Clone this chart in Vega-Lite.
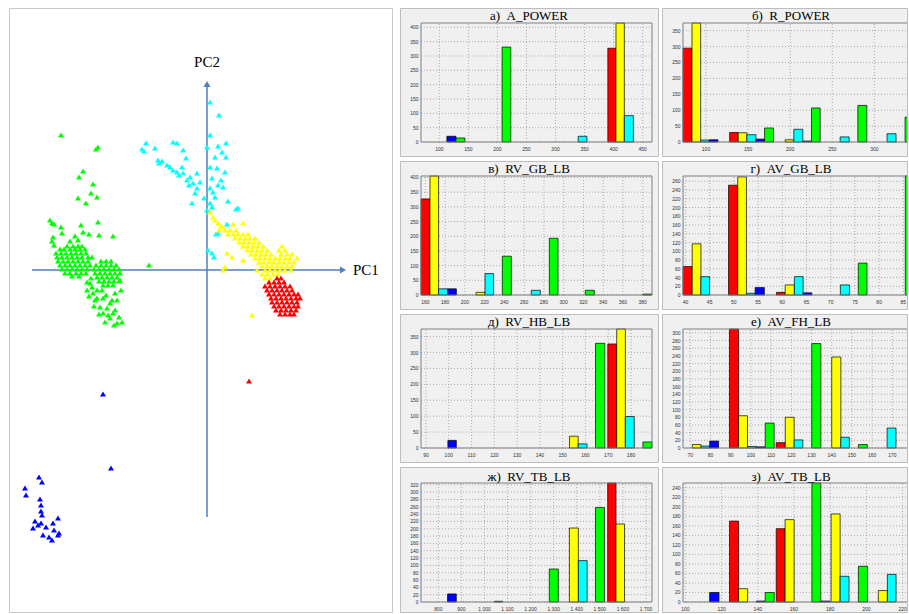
{
"$schema": "https://vega.github.io/schema/vega-lite/v6.json",
"padding": {"left": 8, "top": 7, "right": 0, "bottom": 0},
"background": "white",
"spacing": 6,
"config": {
  "axis": {"disable": true}
},
"hconcat": [
{
  "width": 383, "height": 604,
  "view": {"fill": "white", "stroke": "#c8c8c8"},
  "layer": [
    {"data": {"values": [{}]}, "mark": {"type": "rule", "color": "#4f81bd", "strokeWidth": 1.5},
     "encoding": {"x": {"datum": -175, "type": "quantitative", "scale": {"domain": [-198, 185], "nice": false, "zero": false}, "axis": null}, "x2": {"datum": 134}, "y": {"datum": 0, "type": "quantitative", "scale": {"domain": [-342, 262], "nice": false, "zero": false}, "axis": null}}},
    {"data": {"values": [{}]}, "mark": {"type": "rule", "color": "#4f81bd", "strokeWidth": 1.5},
     "encoding": {"x": {"datum": 0, "type": "quantitative", "scale": {"domain": [-198, 185], "nice": false, "zero": false}, "axis": null}, "y": {"datum": -247, "type": "quantitative", "scale": {"domain": [-342, 262], "nice": false, "zero": false}, "axis": null}, "y2": {"datum": 184}}},
    {"data": {"values": [{}]}, "mark": {"type": "point", "shape": "triangle-right", "filled": true, "size": 50, "color": "#4f81bd", "opacity": 1},
     "encoding": {"x": {"datum": 136, "type": "quantitative", "scale": {"domain": [-198, 185], "nice": false, "zero": false}, "axis": null}, "y": {"datum": 0, "type": "quantitative", "scale": {"domain": [-342, 262], "nice": false, "zero": false}, "axis": null}}},
    {"data": {"values": [{}]}, "mark": {"type": "point", "shape": "triangle-up", "filled": true, "size": 50, "color": "#4f81bd", "opacity": 1},
     "encoding": {"x": {"datum": 0, "type": "quantitative", "scale": {"domain": [-198, 185], "nice": false, "zero": false}, "axis": null}, "y": {"datum": 186, "type": "quantitative", "scale": {"domain": [-342, 262], "nice": false, "zero": false}, "axis": null}}},
    {"data": {"values": [{}]}, "mark": {"type": "text", "text": "PC1", "font": "Liberation Serif", "fontSize": 15, "fontWeight": "normal", "align": "left", "baseline": "middle", "color": "#000000"},
     "encoding": {"x": {"datum": 146, "type": "quantitative", "scale": {"domain": [-198, 185], "nice": false, "zero": false}, "axis": null}, "y": {"datum": 0, "type": "quantitative", "scale": {"domain": [-342, 262], "nice": false, "zero": false}, "axis": null}}},
    {"data": {"values": [{}]}, "mark": {"type": "text", "text": "PC2", "font": "Liberation Serif", "fontSize": 15, "fontWeight": "normal", "align": "center", "baseline": "middle", "color": "#000000"},
     "encoding": {"x": {"datum": 0, "type": "quantitative", "scale": {"domain": [-198, 185], "nice": false, "zero": false}, "axis": null}, "y": {"datum": 208, "type": "quantitative", "scale": {"domain": [-342, 262], "nice": false, "zero": false}, "axis": null}}},
    {"data": {"values": [
      {"g":"G","x":-146,"y":135},{"g":"G","x":-111,"y":121},{"g":"G","x":-109,"y":123},{"g":"G","x":-124,"y":99},{"g":"G","x":-128,"y":93},{"g":"G","x":-114,"y":86},{"g":"G","x":-129,"y":72},{"g":"G","x":-116,"y":77},{"g":"G","x":-110,"y":73},{"g":"G","x":-121,"y":67},{"g":"G","x":-157,"y":50},{"g":"G","x":-155,"y":47},{"g":"G","x":-153,"y":46},{"g":"G","x":-146,"y":43},{"g":"G","x":-126,"y":45},{"g":"G","x":-109,"y":48},{"g":"G","x":-124,"y":38},{"g":"G","x":-118,"y":36},{"g":"G","x":-108,"y":35},{"g":"G","x":-94,"y":34},{"g":"G","x":-154,"y":33},{"g":"G","x":-155,"y":29},{"g":"G","x":-153,"y":25},{"g":"G","x":-137,"y":29},{"g":"G","x":-129,"y":30},{"g":"G","x":-58,"y":5},{"g":"G","x":-145,"y":37},{"g":"G","x":-132,"y":34},
      {"g":"G","x":-140,"y":24},{"g":"G","x":-134,"y":24},{"g":"G","x":-129,"y":24},{"g":"G","x":-125,"y":24},
      {"g":"G","x":-147,"y":21},{"g":"G","x":-143,"y":21},{"g":"G","x":-137,"y":21},{"g":"G","x":-132,"y":21},{"g":"G","x":-127,"y":21},{"g":"G","x":-122,"y":21},
      {"g":"G","x":-151,"y":17},{"g":"G","x":-146,"y":17},{"g":"G","x":-141,"y":17},{"g":"G","x":-136,"y":17},{"g":"G","x":-131,"y":17},{"g":"G","x":-126,"y":17},{"g":"G","x":-121,"y":17},
      {"g":"G","x":-150,"y":13},{"g":"G","x":-145,"y":13},{"g":"G","x":-140,"y":13},{"g":"G","x":-135,"y":13},{"g":"G","x":-130,"y":13},{"g":"G","x":-125,"y":13},{"g":"G","x":-119,"y":13},{"g":"G","x":-115,"y":13},
      {"g":"G","x":-149,"y":9},{"g":"G","x":-144,"y":9},{"g":"G","x":-139,"y":9},{"g":"G","x":-134,"y":9},{"g":"G","x":-129,"y":9},{"g":"G","x":-124,"y":9},{"g":"G","x":-119,"y":9},
      {"g":"G","x":-147,"y":5},{"g":"G","x":-142,"y":5},{"g":"G","x":-137,"y":5},{"g":"G","x":-132,"y":5},{"g":"G","x":-127,"y":5},{"g":"G","x":-122,"y":5},{"g":"G","x":-117,"y":5},
      {"g":"G","x":-145,"y":1},{"g":"G","x":-140,"y":1},{"g":"G","x":-135,"y":1},{"g":"G","x":-130,"y":1},{"g":"G","x":-125,"y":1},{"g":"G","x":-120,"y":1},
      {"g":"G","x":-142,"y":-3},{"g":"G","x":-137,"y":-3},{"g":"G","x":-131,"y":-3},{"g":"G","x":-126,"y":-3},{"g":"G","x":-121,"y":-3},{"g":"G","x":-135,"y":-6},{"g":"G","x":-128,"y":-6},
      {"g":"G","x":-106,"y":9},{"g":"G","x":-101,"y":9},{"g":"G","x":-96,"y":9},
      {"g":"G","x":-111,"y":5},{"g":"G","x":-106,"y":5},{"g":"G","x":-101,"y":5},{"g":"G","x":-96,"y":5},{"g":"G","x":-91,"y":5},
      {"g":"G","x":-113,"y":1},{"g":"G","x":-108,"y":1},{"g":"G","x":-103,"y":1},{"g":"G","x":-98,"y":1},{"g":"G","x":-93,"y":1},{"g":"G","x":-88,"y":1},
      {"g":"G","x":-112,"y":-3},{"g":"G","x":-107,"y":-3},{"g":"G","x":-102,"y":-3},{"g":"G","x":-97,"y":-3},{"g":"G","x":-92,"y":-3},{"g":"G","x":-87,"y":-3},
      {"g":"G","x":-110,"y":-7},{"g":"G","x":-105,"y":-7},{"g":"G","x":-100,"y":-7},{"g":"G","x":-95,"y":-7},{"g":"G","x":-90,"y":-7},
      {"g":"G","x":-108,"y":-11},{"g":"G","x":-103,"y":-11},{"g":"G","x":-98,"y":-11},{"g":"G","x":-93,"y":-11},{"g":"G","x":-88,"y":-11},
      {"g":"G","x":-104,"y":-15},{"g":"G","x":-99,"y":-15},{"g":"G","x":-94,"y":-15},
      {"g":"G","x":-117,"y":-13},{"g":"G","x":-114,"y":-23},{"g":"G","x":-112,"y":-30},{"g":"G","x":-107,"y":-37},{"g":"G","x":-104,"y":-43},{"g":"G","x":-97,"y":-48},{"g":"G","x":-90,"y":-53},{"g":"G","x":-85,"y":-52},{"g":"G","x":-94,"y":-43},{"g":"G","x":-110,"y":-20},{"g":"G","x":-120,"y":-20},{"g":"G","x":-97,"y":-33},{"g":"G","x":-92,"y":-23},{"g":"G","x":-87,"y":-10},{"g":"G","x":-118,"y":-26},{"g":"G","x":-113,"y":-36},{"g":"G","x":-104,"y":-28},{"g":"G","x":-100,"y":-38},{"g":"G","x":-95,"y":-30},{"g":"G","x":-108,"y":-44},{"g":"G","x":-99,"y":-45},{"g":"G","x":-92,"y":-40},{"g":"G","x":-88,"y":-47},{"g":"G","x":-120,"y":-12},{"g":"G","x":-115,"y":-17},{"g":"G","x":-105,"y":-20},{"g":"G","x":-101,"y":-25},{"g":"G","x":-90,"y":-30},{"g":"G","x":-86,"y":-20},{"g":"G","x":-116,"y":-8},{"g":"G","x":-102,"y":-52},{"g":"G","x":-110,"y":-28},{"g":"G","x":-93,"y":-55},
      {"g":"C","x":3,"y":168},{"g":"C","x":12,"y":155},{"g":"C","x":3,"y":135},{"g":"C","x":19,"y":127},{"g":"C","x":11,"y":124},{"g":"C","x":0,"y":123},{"g":"C","x":15,"y":118},{"g":"C","x":8,"y":113},{"g":"C","x":19,"y":113},{"g":"C","x":-61,"y":127},{"g":"C","x":-65,"y":121},{"g":"C","x":-63,"y":119},{"g":"C","x":-52,"y":122},{"g":"C","x":-34,"y":128},{"g":"C","x":-30,"y":127},{"g":"C","x":-24,"y":120},{"g":"C","x":-21,"y":112},{"g":"C","x":-49,"y":110},{"g":"C","x":-48,"y":107},{"g":"C","x":-45,"y":109},{"g":"C","x":-37,"y":103},{"g":"C","x":-34,"y":100},{"g":"C","x":-25,"y":103},{"g":"C","x":-24,"y":97},{"g":"C","x":-17,"y":93},{"g":"C","x":-10,"y":97},{"g":"C","x":-14,"y":87},{"g":"C","x":-10,"y":82},{"g":"C","x":-12,"y":77},{"g":"C","x":-15,"y":67},{"g":"C","x":-3,"y":72},{"g":"C","x":3,"y":103},{"g":"C","x":5,"y":92},{"g":"C","x":10,"y":102},{"g":"C","x":18,"y":98},{"g":"C","x":11,"y":85},{"g":"C","x":16,"y":83},{"g":"C","x":3,"y":82},{"g":"C","x":8,"y":73},{"g":"C","x":21,"y":69},{"g":"C","x":3,"y":67},{"g":"C","x":0,"y":60},{"g":"C","x":5,"y":63},{"g":"C","x":31,"y":62},{"g":"C","x":29,"y":61},{"g":"C","x":20,"y":46},{"g":"C","x":11,"y":37},{"g":"C","x":9,"y":36},{"g":"C","x":1,"y":20},{"g":"C","x":5,"y":17},{"g":"C","x":7,"y":13},{"g":"C","x":-40,"y":105},{"g":"C","x":-30,"y":98},{"g":"C","x":-28,"y":95},{"g":"C","x":-20,"y":90},{"g":"C","x":-18,"y":85},{"g":"C","x":-7,"y":88},{"g":"C","x":14,"y":90},{"g":"C","x":6,"y":78},
      {"g":"Y","x":3,"y":58},{"g":"Y","x":8,"y":50},{"g":"Y","x":11,"y":47},{"g":"Y","x":14,"y":44},{"g":"Y","x":16,"y":43},{"g":"Y","x":26,"y":46},{"g":"Y","x":36,"y":47},{"g":"Y","x":20,"y":17},{"g":"Y","x":25,"y":13},{"g":"Y","x":16,"y":0},{"g":"Y","x":18,"y":3},{"g":"Y","x":36,"y":10},{"g":"Y","x":45,"y":-45},{"g":"Y","x":6,"y":53},{"g":"Y","x":12,"y":40},
      {"g":"Y","x":18,"y":40},{"g":"Y","x":23,"y":40},{"g":"Y","x":29,"y":40},
      {"g":"Y","x":21,"y":36},{"g":"Y","x":26,"y":36},{"g":"Y","x":31,"y":36},{"g":"Y","x":36,"y":36},{"g":"Y","x":41,"y":36},
      {"g":"Y","x":28,"y":32},{"g":"Y","x":33,"y":32},{"g":"Y","x":38,"y":32},{"g":"Y","x":43,"y":32},{"g":"Y","x":48,"y":32},
      {"g":"Y","x":32,"y":28},{"g":"Y","x":37,"y":28},{"g":"Y","x":42,"y":28},{"g":"Y","x":47,"y":28},{"g":"Y","x":52,"y":28},
      {"g":"Y","x":36,"y":24},{"g":"Y","x":41,"y":24},{"g":"Y","x":46,"y":24},{"g":"Y","x":51,"y":24},{"g":"Y","x":56,"y":24},{"g":"Y","x":75,"y":24},
      {"g":"Y","x":40,"y":20},{"g":"Y","x":45,"y":20},{"g":"Y","x":50,"y":20},{"g":"Y","x":55,"y":20},{"g":"Y","x":60,"y":20},{"g":"Y","x":72,"y":20},{"g":"Y","x":78,"y":20},
      {"g":"Y","x":44,"y":16},{"g":"Y","x":49,"y":16},{"g":"Y","x":54,"y":16},{"g":"Y","x":59,"y":16},{"g":"Y","x":64,"y":16},{"g":"Y","x":74,"y":16},{"g":"Y","x":80,"y":16},{"g":"Y","x":85,"y":16},
      {"g":"Y","x":48,"y":12},{"g":"Y","x":53,"y":12},{"g":"Y","x":58,"y":12},{"g":"Y","x":63,"y":12},{"g":"Y","x":68,"y":12},{"g":"Y","x":73,"y":12},{"g":"Y","x":78,"y":12},{"g":"Y","x":83,"y":12},{"g":"Y","x":90,"y":12},
      {"g":"Y","x":52,"y":8},{"g":"Y","x":57,"y":8},{"g":"Y","x":62,"y":8},{"g":"Y","x":67,"y":8},{"g":"Y","x":72,"y":8},{"g":"Y","x":77,"y":8},{"g":"Y","x":82,"y":8},{"g":"Y","x":87,"y":8},
      {"g":"Y","x":55,"y":4},{"g":"Y","x":60,"y":4},{"g":"Y","x":65,"y":4},{"g":"Y","x":70,"y":4},{"g":"Y","x":75,"y":4},{"g":"Y","x":80,"y":4},{"g":"Y","x":85,"y":4},
      {"g":"Y","x":50,"y":0},{"g":"Y","x":58,"y":0},{"g":"Y","x":63,"y":0},{"g":"Y","x":68,"y":0},{"g":"Y","x":73,"y":0},{"g":"Y","x":78,"y":0},{"g":"Y","x":84,"y":0},
      {"g":"Y","x":55,"y":-4},{"g":"Y","x":60,"y":-4},{"g":"Y","x":66,"y":-4},{"g":"Y","x":71,"y":-4},{"g":"Y","x":58,"y":-8},{"g":"Y","x":63,"y":-8},
      {"g":"R","x":70,"y":-8},{"g":"R","x":74,"y":-8},
      {"g":"R","x":62,"y":-12},{"g":"R","x":67,"y":-12},{"g":"R","x":72,"y":-12},{"g":"R","x":77,"y":-12},
      {"g":"R","x":58,"y":-16},{"g":"R","x":63,"y":-16},{"g":"R","x":68,"y":-16},{"g":"R","x":73,"y":-16},{"g":"R","x":78,"y":-16},{"g":"R","x":83,"y":-16},
      {"g":"R","x":60,"y":-20},{"g":"R","x":65,"y":-20},{"g":"R","x":70,"y":-20},{"g":"R","x":75,"y":-20},{"g":"R","x":80,"y":-20},{"g":"R","x":85,"y":-20},
      {"g":"R","x":62,"y":-24},{"g":"R","x":67,"y":-24},{"g":"R","x":72,"y":-24},{"g":"R","x":77,"y":-24},{"g":"R","x":82,"y":-24},{"g":"R","x":87,"y":-24},{"g":"R","x":91,"y":-24},
      {"g":"R","x":64,"y":-28},{"g":"R","x":69,"y":-28},{"g":"R","x":74,"y":-28},{"g":"R","x":79,"y":-28},{"g":"R","x":84,"y":-28},{"g":"R","x":89,"y":-28},{"g":"R","x":93,"y":-28},
      {"g":"R","x":65,"y":-32},{"g":"R","x":70,"y":-32},{"g":"R","x":75,"y":-32},{"g":"R","x":80,"y":-32},{"g":"R","x":85,"y":-32},{"g":"R","x":90,"y":-32},
      {"g":"R","x":67,"y":-36},{"g":"R","x":72,"y":-36},{"g":"R","x":77,"y":-36},{"g":"R","x":82,"y":-36},{"g":"R","x":87,"y":-36},{"g":"R","x":91,"y":-36},
      {"g":"R","x":69,"y":-40},{"g":"R","x":74,"y":-40},{"g":"R","x":79,"y":-40},{"g":"R","x":84,"y":-40},{"g":"R","x":89,"y":-40},
      {"g":"R","x":73,"y":-44},{"g":"R","x":78,"y":-44},{"g":"R","x":83,"y":-44},{"g":"R","x":87,"y":-44},
      {"g":"R","x":42,"y":-111},
      {"g":"B","x":-104,"y":-124},{"g":"B","x":-96,"y":-198},{"g":"B","x":-168,"y":-207},{"g":"B","x":-165,"y":-212},{"g":"B","x":-182,"y":-218},{"g":"B","x":-181,"y":-225},{"g":"B","x":-167,"y":-229},{"g":"B","x":-166,"y":-235},{"g":"B","x":-166,"y":-241},{"g":"B","x":-165,"y":-245},{"g":"B","x":-149,"y":-248},{"g":"B","x":-172,"y":-251},{"g":"B","x":-169,"y":-255},{"g":"B","x":-166,"y":-253},{"g":"B","x":-154,"y":-253},{"g":"B","x":-161,"y":-257},{"g":"B","x":-174,"y":-258},{"g":"B","x":-153,"y":-260},{"g":"B","x":-164,"y":-265},{"g":"B","x":-158,"y":-267},{"g":"B","x":-155,"y":-270},{"g":"B","x":-149,"y":-265},{"g":"B","x":-148,"y":-263}
     ]},
     "mark": {"type": "point", "shape": "triangle-up", "filled": true, "size": 36, "opacity": 1},
     "encoding": {"x": {"field": "x", "type": "quantitative", "scale": {"domain": [-198, 185], "nice": false, "zero": false}, "axis": null}, "y": {"field": "y", "type": "quantitative", "scale": {"domain": [-342, 262], "nice": false, "zero": false}, "axis": null},
       "color": {"field": "g", "type": "nominal", "scale": {"domain": ["R","Y","C","B","G"], "range": ["#ff0000","#ffff00","#00ffff","#0000ff","#00ff00"]}, "legend": null}}}
  ]
},
{
  "spacing": 3,
  "vconcat": [
  {"spacing": 2, "hconcat": [
    {"width": 258, "height": 148, "view": {"fill": "#f0f0f0", "stroke": "#bdbdbd"},
     "layer": [
      {"data": {"values": [{"v":100,"t":"100"},{"v":150,"t":"150"},{"v":200,"t":"200"},{"v":250,"t":"250"},{"v":300,"t":"300"},{"v":350,"t":"350"},{"v":400,"t":"400"},{"v":450,"t":"450"}]},
       "layer": [
        {"mark": {"type":"rule","strokeDash":[1,2],"color":"#9c9c9c","strokeWidth":0.8,"clip":true},
         "encoding": {"x": {"field":"v","type":"quantitative","scale":{"domain":[68.5,466],"range":[21,252],"nice":false,"zero":false}}, "y": {"datum":0,"type":"quantitative","scale":{"domain":[0,415],"range":[134,15],"nice":false,"zero":false}}, "y2": {"datum":415}}},
        {"mark": {"type":"text","font":"Liberation Sans","fontSize":5,"color":"#303030","baseline":"middle","align":"center","dy":6.5},
         "encoding": {"x": {"field":"v","type":"quantitative","scale":{"domain":[68.5,466],"range":[21,252],"nice":false,"zero":false}}, "y": {"datum":0,"type":"quantitative","scale":{"domain":[0,415],"range":[134,15],"nice":false,"zero":false}}, "text": {"field":"t"}}}
       ]},
      {"data": {"values": [{"v":0,"t":"0"},{"v":50,"t":"50"},{"v":100,"t":"100"},{"v":150,"t":"150"},{"v":200,"t":"200"},{"v":250,"t":"250"},{"v":300,"t":"300"},{"v":350,"t":"350"},{"v":400,"t":"400"}]},
       "layer": [
        {"mark": {"type":"rule","strokeDash":[1,2],"color":"#9c9c9c","strokeWidth":0.8,"clip":true},
         "encoding": {"y": {"field":"v","type":"quantitative","scale":{"domain":[0,415],"range":[134,15],"nice":false,"zero":false}}, "x": {"datum":68.5,"type":"quantitative","scale":{"domain":[68.5,466],"range":[21,252],"nice":false,"zero":false}}, "x2": {"datum":466}}},
        {"mark": {"type":"text","font":"Liberation Sans","fontSize":5,"color":"#303030","baseline":"middle","align":"right","dx":-2.5},
         "encoding": {"y": {"field":"v","type":"quantitative","scale":{"domain":[0,415],"range":[134,15],"nice":false,"zero":false}}, "x": {"datum":68.5,"type":"quantitative","scale":{"domain":[68.5,466],"range":[21,252],"nice":false,"zero":false}}, "text": {"field":"t"}}}
       ]},
      {"data": {"values": [{"c":"B","x0":113,"x1":128.7,"h":20},{"c":"G","x0":128.7,"x1":144,"h":14},{"c":"G","x0":208,"x1":223,"h":331},{"c":"C","x0":339,"x1":354,"h":20},{"c":"R","x0":390,"x1":404,"h":327},{"c":"Y","x0":404,"x1":418.4,"h":415},{"c":"C","x0":418.4,"x1":434,"h":92}]},
       "mark": {"type":"rect","stroke":"#000000","strokeWidth":0.7,"clip":true},
       "encoding": {
        "x": {"field":"x0","type":"quantitative","scale":{"domain":[68.5,466],"range":[21,252],"nice":false,"zero":false}},
        "x2": {"field":"x1"},
        "y": {"field":"h","type":"quantitative","scale":{"domain":[0,415],"range":[134,15],"nice":false,"zero":false}},
        "y2": {"datum":0},
        "color": {"field":"c","type":"nominal","scale":{"domain":["R","Y","C","B","G"],"range":["#ff0000","#ffff00","#00ffff","#0000ff","#00ff00"]},"legend":null}}},
      {"data": {"values": [{}]}, "mark": {"type":"rect","filled":false,"stroke":"#7f7f7f","strokeWidth":1,"clip":true},
       "encoding": {"x": {"datum":68.5,"type":"quantitative","scale":{"domain":[68.5,466],"range":[21,252],"nice":false,"zero":false}}, "x2": {"datum":466}, "y": {"datum":0,"type":"quantitative","scale":{"domain":[0,415],"range":[134,15],"nice":false,"zero":false}}, "y2": {"datum":415}}},
      {"data": {"values": [{"t":"а)\u00a0\u00a0A_POWER"}]}, "mark": {"type":"text","font":"Liberation Serif","fontSize":13,"fontWeight":"normal","color":"#000000","align":"center","baseline":"alphabetic","dy":-3},
       "encoding": {"x": {"datum":254.3,"type":"quantitative","scale":{"domain":[68.5,466],"range":[21,252],"nice":false,"zero":false}}, "y": {"datum":415,"type":"quantitative","scale":{"domain":[0,415],"range":[134,15],"nice":false,"zero":false}}, "text": {"field":"t"}}}
     ]},
    {"width": 245, "height": 148, "view": {"fill": "#f0f0f0", "stroke": "#bdbdbd"},
     "layer": [
      {"data": {"values": [{"v":100,"t":"100"},{"v":150,"t":"150"},{"v":200,"t":"200"},{"v":250,"t":"250"},{"v":300,"t":"300"}]},
       "layer": [
        {"mark": {"type":"rule","strokeDash":[1,2],"color":"#9c9c9c","strokeWidth":0.8,"clip":true},
         "encoding": {"x": {"field":"v","type":"quantitative","scale":{"domain":[72.7,347],"range":[21,252],"nice":false,"zero":false}}, "y": {"datum":0,"type":"quantitative","scale":{"domain":[0,374],"range":[134,15],"nice":false,"zero":false}}, "y2": {"datum":374}}},
        {"mark": {"type":"text","font":"Liberation Sans","fontSize":5,"color":"#303030","baseline":"middle","align":"center","dy":6.5},
         "encoding": {"x": {"field":"v","type":"quantitative","scale":{"domain":[72.7,347],"range":[21,252],"nice":false,"zero":false}}, "y": {"datum":0,"type":"quantitative","scale":{"domain":[0,374],"range":[134,15],"nice":false,"zero":false}}, "text": {"field":"t"}}}
       ]},
      {"data": {"values": [{"v":0,"t":"0"},{"v":50,"t":"50"},{"v":100,"t":"100"},{"v":150,"t":"150"},{"v":200,"t":"200"},{"v":250,"t":"250"},{"v":300,"t":"300"},{"v":350,"t":"350"}]},
       "layer": [
        {"mark": {"type":"rule","strokeDash":[1,2],"color":"#9c9c9c","strokeWidth":0.8,"clip":true},
         "encoding": {"y": {"field":"v","type":"quantitative","scale":{"domain":[0,374],"range":[134,15],"nice":false,"zero":false}}, "x": {"datum":72.7,"type":"quantitative","scale":{"domain":[72.7,347],"range":[21,252],"nice":false,"zero":false}}, "x2": {"datum":347}}},
        {"mark": {"type":"text","font":"Liberation Sans","fontSize":5,"color":"#303030","baseline":"middle","align":"right","dx":-2.5},
         "encoding": {"y": {"field":"v","type":"quantitative","scale":{"domain":[0,374],"range":[134,15],"nice":false,"zero":false}}, "x": {"datum":72.7,"type":"quantitative","scale":{"domain":[72.7,347],"range":[21,252],"nice":false,"zero":false}}, "text": {"field":"t"}}}
       ]},
      {"data": {"values": [{"c":"R","x0":72.7,"x1":83.4,"h":295},{"c":"Y","x0":83.4,"x1":93.7,"h":374},{"c":"C","x0":93.7,"x1":104,"h":6},{"c":"B","x0":104,"x1":114.2,"h":7},{"c":"R","x0":128.1,"x1":138.3,"h":30},{"c":"Y","x0":138.3,"x1":148.6,"h":29},{"c":"C","x0":148.6,"x1":159.3,"h":23},{"c":"B","x0":159.3,"x1":169.6,"h":9},{"c":"G","x0":169.6,"x1":180.2,"h":44},{"c":"Y","x0":194,"x1":204.3,"h":7},{"c":"C","x0":204.3,"x1":215,"h":40},{"c":"B","x0":215,"x1":225.3,"h":3},{"c":"G","x0":225.3,"x1":235.6,"h":107},{"c":"C","x0":259.3,"x1":270,"h":16},{"c":"G","x0":280.3,"x1":291,"h":115},{"c":"C","x0":315,"x1":325.7,"h":26},{"c":"G","x0":336.4,"x1":347,"h":78}]},
       "mark": {"type":"rect","stroke":"#000000","strokeWidth":0.7,"clip":true},
       "encoding": {
        "x": {"field":"x0","type":"quantitative","scale":{"domain":[72.7,347],"range":[21,252],"nice":false,"zero":false}},
        "x2": {"field":"x1"},
        "y": {"field":"h","type":"quantitative","scale":{"domain":[0,374],"range":[134,15],"nice":false,"zero":false}},
        "y2": {"datum":0},
        "color": {"field":"c","type":"nominal","scale":{"domain":["R","Y","C","B","G"],"range":["#ff0000","#ffff00","#00ffff","#0000ff","#00ff00"]},"legend":null}}},
      {"data": {"values": [{}]}, "mark": {"type":"rect","filled":false,"stroke":"#7f7f7f","strokeWidth":1,"clip":true},
       "encoding": {"x": {"datum":72.7,"type":"quantitative","scale":{"domain":[72.7,347],"range":[21,252],"nice":false,"zero":false}}, "x2": {"datum":347}, "y": {"datum":0,"type":"quantitative","scale":{"domain":[0,374],"range":[134,15],"nice":false,"zero":false}}, "y2": {"datum":374}}},
      {"data": {"values": [{"t":"б)\u00a0\u00a0R_POWER"}]}, "mark": {"type":"text","font":"Liberation Serif","fontSize":13,"fontWeight":"normal","color":"#000000","align":"center","baseline":"alphabetic","dy":-3},
       "encoding": {"x": {"datum":200.9,"type":"quantitative","scale":{"domain":[72.7,347],"range":[21,252],"nice":false,"zero":false}}, "y": {"datum":374,"type":"quantitative","scale":{"domain":[0,374],"range":[134,15],"nice":false,"zero":false}}, "text": {"field":"t"}}}
     ]}
  ]},
  {"spacing": 2, "hconcat": [
    {"width": 258, "height": 148, "view": {"fill": "#f0f0f0", "stroke": "#bdbdbd"},
     "layer": [
      {"data": {"values": [{"v":160,"t":"160"},{"v":180,"t":"180"},{"v":200,"t":"200"},{"v":220,"t":"220"},{"v":240,"t":"240"},{"v":260,"t":"260"},{"v":280,"t":"280"},{"v":300,"t":"300"},{"v":320,"t":"320"},{"v":340,"t":"340"},{"v":360,"t":"360"},{"v":380,"t":"380"}]},
       "layer": [
        {"mark": {"type":"rule","strokeDash":[1,2],"color":"#9c9c9c","strokeWidth":0.8,"clip":true},
         "encoding": {"x": {"field":"v","type":"quantitative","scale":{"domain":[155.6,389.4],"range":[21,252],"nice":false,"zero":false}}, "y": {"datum":0,"type":"quantitative","scale":{"domain":[0,405],"range":[134,15],"nice":false,"zero":false}}, "y2": {"datum":405}}},
        {"mark": {"type":"text","font":"Liberation Sans","fontSize":5,"color":"#303030","baseline":"middle","align":"center","dy":6.5},
         "encoding": {"x": {"field":"v","type":"quantitative","scale":{"domain":[155.6,389.4],"range":[21,252],"nice":false,"zero":false}}, "y": {"datum":0,"type":"quantitative","scale":{"domain":[0,405],"range":[134,15],"nice":false,"zero":false}}, "text": {"field":"t"}}}
       ]},
      {"data": {"values": [{"v":0,"t":"0"},{"v":50,"t":"50"},{"v":100,"t":"100"},{"v":150,"t":"150"},{"v":200,"t":"200"},{"v":250,"t":"250"},{"v":300,"t":"300"},{"v":350,"t":"350"},{"v":400,"t":"400"}]},
       "layer": [
        {"mark": {"type":"rule","strokeDash":[1,2],"color":"#9c9c9c","strokeWidth":0.8,"clip":true},
         "encoding": {"y": {"field":"v","type":"quantitative","scale":{"domain":[0,405],"range":[134,15],"nice":false,"zero":false}}, "x": {"datum":155.6,"type":"quantitative","scale":{"domain":[155.6,389.4],"range":[21,252],"nice":false,"zero":false}}, "x2": {"datum":389.4}}},
        {"mark": {"type":"text","font":"Liberation Sans","fontSize":5,"color":"#303030","baseline":"middle","align":"right","dx":-2.5},
         "encoding": {"y": {"field":"v","type":"quantitative","scale":{"domain":[0,405],"range":[134,15],"nice":false,"zero":false}}, "x": {"datum":155.6,"type":"quantitative","scale":{"domain":[155.6,389.4],"range":[21,252],"nice":false,"zero":false}}, "text": {"field":"t"}}}
       ]},
      {"data": {"values": [{"c":"R","x0":155.6,"x1":164.7,"h":327},{"c":"Y","x0":164.7,"x1":173.4,"h":405},{"c":"C","x0":173.4,"x1":182.6,"h":21},{"c":"B","x0":182.6,"x1":191.4,"h":21},{"c":"Y","x0":211.3,"x1":220.4,"h":9},{"c":"C","x0":220.4,"x1":229.1,"h":73},{"c":"G","x0":237.9,"x1":247,"h":132},{"c":"C","x0":267.2,"x1":276.4,"h":16},{"c":"G","x0":285.5,"x1":294.3,"h":193},{"c":"G","x0":321.9,"x1":331,"h":16},{"c":"G","x0":380,"x1":389.4,"h":3}]},
       "mark": {"type":"rect","stroke":"#000000","strokeWidth":0.7,"clip":true},
       "encoding": {
        "x": {"field":"x0","type":"quantitative","scale":{"domain":[155.6,389.4],"range":[21,252],"nice":false,"zero":false}},
        "x2": {"field":"x1"},
        "y": {"field":"h","type":"quantitative","scale":{"domain":[0,405],"range":[134,15],"nice":false,"zero":false}},
        "y2": {"datum":0},
        "color": {"field":"c","type":"nominal","scale":{"domain":["R","Y","C","B","G"],"range":["#ff0000","#ffff00","#00ffff","#0000ff","#00ff00"]},"legend":null}}},
      {"data": {"values": [{}]}, "mark": {"type":"rect","filled":false,"stroke":"#7f7f7f","strokeWidth":1,"clip":true},
       "encoding": {"x": {"datum":155.6,"type":"quantitative","scale":{"domain":[155.6,389.4],"range":[21,252],"nice":false,"zero":false}}, "x2": {"datum":389.4}, "y": {"datum":0,"type":"quantitative","scale":{"domain":[0,405],"range":[134,15],"nice":false,"zero":false}}, "y2": {"datum":405}}},
      {"data": {"values": [{"t":"в)\u00a0\u00a0RV_GB_LB"}]}, "mark": {"type":"text","font":"Liberation Serif","fontSize":13,"fontWeight":"normal","color":"#000000","align":"center","baseline":"alphabetic","dy":-3},
       "encoding": {"x": {"datum":264.9,"type":"quantitative","scale":{"domain":[155.6,389.4],"range":[21,252],"nice":false,"zero":false}}, "y": {"datum":405,"type":"quantitative","scale":{"domain":[0,405],"range":[134,15],"nice":false,"zero":false}}, "text": {"field":"t"}}}
     ]},
    {"width": 245, "height": 148, "view": {"fill": "#f0f0f0", "stroke": "#bdbdbd"},
     "layer": [
      {"data": {"values": [{"v":40,"t":"40"},{"v":45,"t":"45"},{"v":50,"t":"50"},{"v":55,"t":"55"},{"v":60,"t":"60"},{"v":65,"t":"65"},{"v":70,"t":"70"},{"v":75,"t":"75"},{"v":80,"t":"80"},{"v":85,"t":"85"}]},
       "layer": [
        {"mark": {"type":"rule","strokeDash":[1,2],"color":"#9c9c9c","strokeWidth":0.8,"clip":true},
         "encoding": {"x": {"field":"v","type":"quantitative","scale":{"domain":[39.5,87.2],"range":[21,252],"nice":false,"zero":false}}, "y": {"datum":0,"type":"quantitative","scale":{"domain":[0,272],"range":[134,15],"nice":false,"zero":false}}, "y2": {"datum":272}}},
        {"mark": {"type":"text","font":"Liberation Sans","fontSize":5,"color":"#303030","baseline":"middle","align":"center","dy":6.5},
         "encoding": {"x": {"field":"v","type":"quantitative","scale":{"domain":[39.5,87.2],"range":[21,252],"nice":false,"zero":false}}, "y": {"datum":0,"type":"quantitative","scale":{"domain":[0,272],"range":[134,15],"nice":false,"zero":false}}, "text": {"field":"t"}}}
       ]},
      {"data": {"values": [{"v":0,"t":"0"},{"v":20,"t":"20"},{"v":40,"t":"40"},{"v":60,"t":"60"},{"v":80,"t":"80"},{"v":100,"t":"100"},{"v":120,"t":"120"},{"v":140,"t":"140"},{"v":160,"t":"160"},{"v":180,"t":"180"},{"v":200,"t":"200"},{"v":220,"t":"220"},{"v":240,"t":"240"},{"v":260,"t":"260"}]},
       "layer": [
        {"mark": {"type":"rule","strokeDash":[1,2],"color":"#9c9c9c","strokeWidth":0.8,"clip":true},
         "encoding": {"y": {"field":"v","type":"quantitative","scale":{"domain":[0,272],"range":[134,15],"nice":false,"zero":false}}, "x": {"datum":39.5,"type":"quantitative","scale":{"domain":[39.5,87.2],"range":[21,252],"nice":false,"zero":false}}, "x2": {"datum":87.2}}},
        {"mark": {"type":"text","font":"Liberation Sans","fontSize":5,"color":"#303030","baseline":"middle","align":"right","dx":-2.5},
         "encoding": {"y": {"field":"v","type":"quantitative","scale":{"domain":[0,272],"range":[134,15],"nice":false,"zero":false}}, "x": {"datum":39.5,"type":"quantitative","scale":{"domain":[39.5,87.2],"range":[21,252],"nice":false,"zero":false}}, "text": {"field":"t"}}}
       ]},
      {"data": {"values": [{"c":"R","x0":39.5,"x1":41.4,"h":65},{"c":"Y","x0":41.4,"x1":43.2,"h":117},{"c":"C","x0":43.2,"x1":45,"h":42},{"c":"R","x0":48.9,"x1":50.8,"h":251},{"c":"Y","x0":50.8,"x1":52.6,"h":270},{"c":"C","x0":52.6,"x1":54.4,"h":4},{"c":"B","x0":54.4,"x1":56.3,"h":17},{"c":"R","x0":58.8,"x1":60.6,"h":6},{"c":"Y","x0":60.6,"x1":62.5,"h":23},{"c":"C","x0":62.5,"x1":64.3,"h":42},{"c":"B","x0":64.3,"x1":66.1,"h":5},{"c":"C","x0":72,"x1":73.9,"h":23},{"c":"G","x0":75.7,"x1":77.5,"h":73},{"c":"G","x0":85.4,"x1":87.2,"h":272}]},
       "mark": {"type":"rect","stroke":"#000000","strokeWidth":0.7,"clip":true},
       "encoding": {
        "x": {"field":"x0","type":"quantitative","scale":{"domain":[39.5,87.2],"range":[21,252],"nice":false,"zero":false}},
        "x2": {"field":"x1"},
        "y": {"field":"h","type":"quantitative","scale":{"domain":[0,272],"range":[134,15],"nice":false,"zero":false}},
        "y2": {"datum":0},
        "color": {"field":"c","type":"nominal","scale":{"domain":["R","Y","C","B","G"],"range":["#ff0000","#ffff00","#00ffff","#0000ff","#00ff00"]},"legend":null}}},
      {"data": {"values": [{}]}, "mark": {"type":"rect","filled":false,"stroke":"#7f7f7f","strokeWidth":1,"clip":true},
       "encoding": {"x": {"datum":39.5,"type":"quantitative","scale":{"domain":[39.5,87.2],"range":[21,252],"nice":false,"zero":false}}, "x2": {"datum":87.2}, "y": {"datum":0,"type":"quantitative","scale":{"domain":[0,272],"range":[134,15],"nice":false,"zero":false}}, "y2": {"datum":272}}},
      {"data": {"values": [{"t":"г)\u00a0\u00a0AV_GB_LB"}]}, "mark": {"type":"text","font":"Liberation Serif","fontSize":13,"fontWeight":"normal","color":"#000000","align":"center","baseline":"alphabetic","dy":-3},
       "encoding": {"x": {"datum":61.8,"type":"quantitative","scale":{"domain":[39.5,87.2],"range":[21,252],"nice":false,"zero":false}}, "y": {"datum":272,"type":"quantitative","scale":{"domain":[0,272],"range":[134,15],"nice":false,"zero":false}}, "text": {"field":"t"}}}
     ]}
  ]},
  {"spacing": 2, "hconcat": [
    {"width": 258, "height": 148, "view": {"fill": "#f0f0f0", "stroke": "#bdbdbd"},
     "layer": [
      {"data": {"values": [{"v":90,"t":"90"},{"v":100,"t":"100"},{"v":110,"t":"110"},{"v":120,"t":"120"},{"v":130,"t":"130"},{"v":140,"t":"140"},{"v":150,"t":"150"},{"v":160,"t":"160"},{"v":170,"t":"170"},{"v":180,"t":"180"}]},
       "layer": [
        {"mark": {"type":"rule","strokeDash":[1,2],"color":"#9c9c9c","strokeWidth":0.8,"clip":true},
         "encoding": {"x": {"field":"v","type":"quantitative","scale":{"domain":[87.8,189.2],"range":[21,252],"nice":false,"zero":false}}, "y": {"datum":0,"type":"quantitative","scale":{"domain":[0,374],"range":[134,15],"nice":false,"zero":false}}, "y2": {"datum":374}}},
        {"mark": {"type":"text","font":"Liberation Sans","fontSize":5,"color":"#303030","baseline":"middle","align":"center","dy":6.5},
         "encoding": {"x": {"field":"v","type":"quantitative","scale":{"domain":[87.8,189.2],"range":[21,252],"nice":false,"zero":false}}, "y": {"datum":0,"type":"quantitative","scale":{"domain":[0,374],"range":[134,15],"nice":false,"zero":false}}, "text": {"field":"t"}}}
       ]},
      {"data": {"values": [{"v":0,"t":"0"},{"v":50,"t":"50"},{"v":100,"t":"100"},{"v":150,"t":"150"},{"v":200,"t":"200"},{"v":250,"t":"250"},{"v":300,"t":"300"},{"v":350,"t":"350"}]},
       "layer": [
        {"mark": {"type":"rule","strokeDash":[1,2],"color":"#9c9c9c","strokeWidth":0.8,"clip":true},
         "encoding": {"y": {"field":"v","type":"quantitative","scale":{"domain":[0,374],"range":[134,15],"nice":false,"zero":false}}, "x": {"datum":87.8,"type":"quantitative","scale":{"domain":[87.8,189.2],"range":[21,252],"nice":false,"zero":false}}, "x2": {"datum":189.2}}},
        {"mark": {"type":"text","font":"Liberation Sans","fontSize":5,"color":"#303030","baseline":"middle","align":"right","dx":-2.5},
         "encoding": {"y": {"field":"v","type":"quantitative","scale":{"domain":[0,374],"range":[134,15],"nice":false,"zero":false}}, "x": {"datum":87.8,"type":"quantitative","scale":{"domain":[87.8,189.2],"range":[21,252],"nice":false,"zero":false}}, "text": {"field":"t"}}}
       ]},
      {"data": {"values": [{"c":"B","x0":99.6,"x1":103.3,"h":24},{"c":"Y","x0":153,"x1":156.8,"h":37},{"c":"C","x0":156.8,"x1":160.7,"h":13},{"c":"G","x0":164.4,"x1":168.5,"h":329},{"c":"R","x0":169.8,"x1":173.7,"h":327},{"c":"Y","x0":173.7,"x1":177.5,"h":374},{"c":"C","x0":177.5,"x1":181.4,"h":99},{"c":"G","x0":185.2,"x1":189.2,"h":19}]},
       "mark": {"type":"rect","stroke":"#000000","strokeWidth":0.7,"clip":true},
       "encoding": {
        "x": {"field":"x0","type":"quantitative","scale":{"domain":[87.8,189.2],"range":[21,252],"nice":false,"zero":false}},
        "x2": {"field":"x1"},
        "y": {"field":"h","type":"quantitative","scale":{"domain":[0,374],"range":[134,15],"nice":false,"zero":false}},
        "y2": {"datum":0},
        "color": {"field":"c","type":"nominal","scale":{"domain":["R","Y","C","B","G"],"range":["#ff0000","#ffff00","#00ffff","#0000ff","#00ff00"]},"legend":null}}},
      {"data": {"values": [{}]}, "mark": {"type":"rect","filled":false,"stroke":"#7f7f7f","strokeWidth":1,"clip":true},
       "encoding": {"x": {"datum":87.8,"type":"quantitative","scale":{"domain":[87.8,189.2],"range":[21,252],"nice":false,"zero":false}}, "x2": {"datum":189.2}, "y": {"datum":0,"type":"quantitative","scale":{"domain":[0,374],"range":[134,15],"nice":false,"zero":false}}, "y2": {"datum":374}}},
      {"data": {"values": [{"t":"д)\u00a0\u00a0RV_HB_LB"}]}, "mark": {"type":"text","font":"Liberation Serif","fontSize":13,"fontWeight":"normal","color":"#000000","align":"center","baseline":"alphabetic","dy":-3},
       "encoding": {"x": {"datum":135.2,"type":"quantitative","scale":{"domain":[87.8,189.2],"range":[21,252],"nice":false,"zero":false}}, "y": {"datum":374,"type":"quantitative","scale":{"domain":[0,374],"range":[134,15],"nice":false,"zero":false}}, "text": {"field":"t"}}}
     ]},
    {"width": 245, "height": 148, "view": {"fill": "#f0f0f0", "stroke": "#bdbdbd"},
     "layer": [
      {"data": {"values": [{"v":70,"t":"70"},{"v":80,"t":"80"},{"v":90,"t":"90"},{"v":100,"t":"100"},{"v":110,"t":"110"},{"v":120,"t":"120"},{"v":130,"t":"130"},{"v":140,"t":"140"},{"v":150,"t":"150"},{"v":160,"t":"160"},{"v":170,"t":"170"}]},
       "layer": [
        {"mark": {"type":"rule","strokeDash":[1,2],"color":"#9c9c9c","strokeWidth":0.8,"clip":true},
         "encoding": {"x": {"field":"v","type":"quantitative","scale":{"domain":[66.4,180.7],"range":[21,252],"nice":false,"zero":false}}, "y": {"datum":0,"type":"quantitative","scale":{"domain":[0,310],"range":[134,15],"nice":false,"zero":false}}, "y2": {"datum":310}}},
        {"mark": {"type":"text","font":"Liberation Sans","fontSize":5,"color":"#303030","baseline":"middle","align":"center","dy":6.5},
         "encoding": {"x": {"field":"v","type":"quantitative","scale":{"domain":[66.4,180.7],"range":[21,252],"nice":false,"zero":false}}, "y": {"datum":0,"type":"quantitative","scale":{"domain":[0,310],"range":[134,15],"nice":false,"zero":false}}, "text": {"field":"t"}}}
       ]},
      {"data": {"values": [{"v":0,"t":"0"},{"v":20,"t":"20"},{"v":40,"t":"40"},{"v":60,"t":"60"},{"v":80,"t":"80"},{"v":100,"t":"100"},{"v":120,"t":"120"},{"v":140,"t":"140"},{"v":160,"t":"160"},{"v":180,"t":"180"},{"v":200,"t":"200"},{"v":220,"t":"220"},{"v":240,"t":"240"},{"v":260,"t":"260"},{"v":280,"t":"280"},{"v":300,"t":"300"}]},
       "layer": [
        {"mark": {"type":"rule","strokeDash":[1,2],"color":"#9c9c9c","strokeWidth":0.8,"clip":true},
         "encoding": {"y": {"field":"v","type":"quantitative","scale":{"domain":[0,310],"range":[134,15],"nice":false,"zero":false}}, "x": {"datum":66.4,"type":"quantitative","scale":{"domain":[66.4,180.7],"range":[21,252],"nice":false,"zero":false}}, "x2": {"datum":180.7}}},
        {"mark": {"type":"text","font":"Liberation Sans","fontSize":5,"color":"#303030","baseline":"middle","align":"right","dx":-2.5},
         "encoding": {"y": {"field":"v","type":"quantitative","scale":{"domain":[0,310],"range":[134,15],"nice":false,"zero":false}}, "x": {"datum":66.4,"type":"quantitative","scale":{"domain":[66.4,180.7],"range":[21,252],"nice":false,"zero":false}}, "text": {"field":"t"}}}
       ]},
      {"data": {"values": [{"c":"Y","x0":71,"x1":75.3,"h":9},{"c":"C","x0":75.3,"x1":79.6,"h":5},{"c":"B","x0":79.6,"x1":84,"h":18},{"c":"R","x0":89.4,"x1":93.9,"h":310},{"c":"Y","x0":93.9,"x1":98.3,"h":84},{"c":"C","x0":98.3,"x1":102.6,"h":4},{"c":"B","x0":102.6,"x1":107.1,"h":3},{"c":"G","x0":107.1,"x1":111.5,"h":65},{"c":"R","x0":112.5,"x1":117,"h":14},{"c":"Y","x0":117,"x1":121.4,"h":80},{"c":"C","x0":121.4,"x1":125.7,"h":21},{"c":"G","x0":130.1,"x1":134.6,"h":272},{"c":"Y","x0":140,"x1":144.5,"h":237},{"c":"C","x0":144.5,"x1":148.7,"h":28},{"c":"G","x0":153.2,"x1":157.6,"h":9},{"c":"C","x0":167.4,"x1":171.8,"h":52}]},
       "mark": {"type":"rect","stroke":"#000000","strokeWidth":0.7,"clip":true},
       "encoding": {
        "x": {"field":"x0","type":"quantitative","scale":{"domain":[66.4,180.7],"range":[21,252],"nice":false,"zero":false}},
        "x2": {"field":"x1"},
        "y": {"field":"h","type":"quantitative","scale":{"domain":[0,310],"range":[134,15],"nice":false,"zero":false}},
        "y2": {"datum":0},
        "color": {"field":"c","type":"nominal","scale":{"domain":["R","Y","C","B","G"],"range":["#ff0000","#ffff00","#00ffff","#0000ff","#00ff00"]},"legend":null}}},
      {"data": {"values": [{}]}, "mark": {"type":"rect","filled":false,"stroke":"#7f7f7f","strokeWidth":1,"clip":true},
       "encoding": {"x": {"datum":66.4,"type":"quantitative","scale":{"domain":[66.4,180.7],"range":[21,252],"nice":false,"zero":false}}, "x2": {"datum":180.7}, "y": {"datum":0,"type":"quantitative","scale":{"domain":[0,310],"range":[134,15],"nice":false,"zero":false}}, "y2": {"datum":310}}},
      {"data": {"values": [{"t":"е)\u00a0\u00a0AV_FH_LB"}]}, "mark": {"type":"text","font":"Liberation Serif","fontSize":13,"fontWeight":"normal","color":"#000000","align":"center","baseline":"alphabetic","dy":-3},
       "encoding": {"x": {"datum":119.8,"type":"quantitative","scale":{"domain":[66.4,180.7],"range":[21,252],"nice":false,"zero":false}}, "y": {"datum":310,"type":"quantitative","scale":{"domain":[0,310],"range":[134,15],"nice":false,"zero":false}}, "text": {"field":"t"}}}
     ]}
  ]},
  {"spacing": 2, "hconcat": [
    {"width": 258, "height": 145, "view": {"fill": "#f0f0f0", "stroke": "#bdbdbd"},
     "layer": [
      {"data": {"values": [{"v":800,"t":"800"},{"v":900,"t":"900"},{"v":1000,"t":"1 000"},{"v":1100,"t":"1 100"},{"v":1200,"t":"1 200"},{"v":1300,"t":"1 300"},{"v":1400,"t":"1 400"},{"v":1500,"t":"1 500"},{"v":1600,"t":"1 600"},{"v":1700,"t":"1 700"}]},
       "layer": [
        {"mark": {"type":"rule","strokeDash":[1,2],"color":"#9c9c9c","strokeWidth":0.8,"clip":true},
         "encoding": {"x": {"field":"v","type":"quantitative","scale":{"domain":[725,1726],"range":[21,252],"nice":false,"zero":false}}, "y": {"datum":0,"type":"quantitative","scale":{"domain":[0,325],"range":[135,16],"nice":false,"zero":false}}, "y2": {"datum":325}}},
        {"mark": {"type":"text","font":"Liberation Sans","fontSize":5,"color":"#303030","baseline":"middle","align":"center","dy":6.5},
         "encoding": {"x": {"field":"v","type":"quantitative","scale":{"domain":[725,1726],"range":[21,252],"nice":false,"zero":false}}, "y": {"datum":0,"type":"quantitative","scale":{"domain":[0,325],"range":[135,16],"nice":false,"zero":false}}, "text": {"field":"t"}}}
       ]},
      {"data": {"values": [{"v":0,"t":"0"},{"v":20,"t":"20"},{"v":40,"t":"40"},{"v":60,"t":"60"},{"v":80,"t":"80"},{"v":100,"t":"100"},{"v":120,"t":"120"},{"v":140,"t":"140"},{"v":160,"t":"160"},{"v":180,"t":"180"},{"v":200,"t":"200"},{"v":220,"t":"220"},{"v":240,"t":"240"},{"v":260,"t":"260"},{"v":280,"t":"280"},{"v":300,"t":"300"},{"v":320,"t":"320"}]},
       "layer": [
        {"mark": {"type":"rule","strokeDash":[1,2],"color":"#9c9c9c","strokeWidth":0.8,"clip":true},
         "encoding": {"y": {"field":"v","type":"quantitative","scale":{"domain":[0,325],"range":[135,16],"nice":false,"zero":false}}, "x": {"datum":725,"type":"quantitative","scale":{"domain":[725,1726],"range":[21,252],"nice":false,"zero":false}}, "x2": {"datum":1726}}},
        {"mark": {"type":"text","font":"Liberation Sans","fontSize":5,"color":"#303030","baseline":"middle","align":"right","dx":-2.5},
         "encoding": {"y": {"field":"v","type":"quantitative","scale":{"domain":[0,325],"range":[135,16],"nice":false,"zero":false}}, "x": {"datum":725,"type":"quantitative","scale":{"domain":[725,1726],"range":[21,252],"nice":false,"zero":false}}, "text": {"field":"t"}}}
       ]},
      {"data": {"values": [{"c":"B","x0":840,"x1":878,"h":22},{"c":"G","x0":1043,"x1":1079,"h":2},{"c":"G","x0":1281,"x1":1320,"h":90},{"c":"Y","x0":1368,"x1":1407,"h":202},{"c":"C","x0":1407,"x1":1445,"h":113},{"c":"G","x0":1481,"x1":1520,"h":258},{"c":"R","x0":1534,"x1":1570,"h":325},{"c":"Y","x0":1570,"x1":1607,"h":213}]},
       "mark": {"type":"rect","stroke":"#000000","strokeWidth":0.7,"clip":true},
       "encoding": {
        "x": {"field":"x0","type":"quantitative","scale":{"domain":[725,1726],"range":[21,252],"nice":false,"zero":false}},
        "x2": {"field":"x1"},
        "y": {"field":"h","type":"quantitative","scale":{"domain":[0,325],"range":[135,16],"nice":false,"zero":false}},
        "y2": {"datum":0},
        "color": {"field":"c","type":"nominal","scale":{"domain":["R","Y","C","B","G"],"range":["#ff0000","#ffff00","#00ffff","#0000ff","#00ff00"]},"legend":null}}},
      {"data": {"values": [{}]}, "mark": {"type":"rect","filled":false,"stroke":"#7f7f7f","strokeWidth":1,"clip":true},
       "encoding": {"x": {"datum":725,"type":"quantitative","scale":{"domain":[725,1726],"range":[21,252],"nice":false,"zero":false}}, "x2": {"datum":1726}, "y": {"datum":0,"type":"quantitative","scale":{"domain":[0,325],"range":[135,16],"nice":false,"zero":false}}, "y2": {"datum":325}}},
      {"data": {"values": [{"t":"ж)\u00a0\u00a0RV_TB_LB"}]}, "mark": {"type":"text","font":"Liberation Serif","fontSize":13,"fontWeight":"normal","color":"#000000","align":"center","baseline":"alphabetic","dy":-2.5},
       "encoding": {"x": {"datum":1193,"type":"quantitative","scale":{"domain":[725,1726],"range":[21,252],"nice":false,"zero":false}}, "y": {"datum":325,"type":"quantitative","scale":{"domain":[0,325],"range":[135,16],"nice":false,"zero":false}}, "text": {"field":"t"}}}
     ]},
    {"width": 245, "height": 145, "view": {"fill": "#f0f0f0", "stroke": "#bdbdbd"},
     "layer": [
      {"data": {"values": [{"v":100,"t":"100"},{"v":120,"t":"120"},{"v":140,"t":"140"},{"v":160,"t":"160"},{"v":180,"t":"180"},{"v":200,"t":"200"},{"v":220,"t":"220"}]},
       "layer": [
        {"mark": {"type":"rule","strokeDash":[1,2],"color":"#9c9c9c","strokeWidth":0.8,"clip":true},
         "encoding": {"x": {"field":"v","type":"quantitative","scale":{"domain":[98.7,226.3],"range":[21,252],"nice":false,"zero":false}}, "y": {"datum":0,"type":"quantitative","scale":{"domain":[0,250],"range":[135,16],"nice":false,"zero":false}}, "y2": {"datum":250}}},
        {"mark": {"type":"text","font":"Liberation Sans","fontSize":5,"color":"#303030","baseline":"middle","align":"center","dy":6.5},
         "encoding": {"x": {"field":"v","type":"quantitative","scale":{"domain":[98.7,226.3],"range":[21,252],"nice":false,"zero":false}}, "y": {"datum":0,"type":"quantitative","scale":{"domain":[0,250],"range":[135,16],"nice":false,"zero":false}}, "text": {"field":"t"}}}
       ]},
      {"data": {"values": [{"v":0,"t":"0"},{"v":20,"t":"20"},{"v":40,"t":"40"},{"v":60,"t":"60"},{"v":80,"t":"80"},{"v":100,"t":"100"},{"v":120,"t":"120"},{"v":140,"t":"140"},{"v":160,"t":"160"},{"v":180,"t":"180"},{"v":200,"t":"200"},{"v":220,"t":"220"},{"v":240,"t":"240"}]},
       "layer": [
        {"mark": {"type":"rule","strokeDash":[1,2],"color":"#9c9c9c","strokeWidth":0.8,"clip":true},
         "encoding": {"y": {"field":"v","type":"quantitative","scale":{"domain":[0,250],"range":[135,16],"nice":false,"zero":false}}, "x": {"datum":98.7,"type":"quantitative","scale":{"domain":[98.7,226.3],"range":[21,252],"nice":false,"zero":false}}, "x2": {"datum":226.3}}},
        {"mark": {"type":"text","font":"Liberation Sans","fontSize":5,"color":"#303030","baseline":"middle","align":"right","dx":-2.5},
         "encoding": {"y": {"field":"v","type":"quantitative","scale":{"domain":[0,250],"range":[135,16],"nice":false,"zero":false}}, "x": {"datum":98.7,"type":"quantitative","scale":{"domain":[98.7,226.3],"range":[21,252],"nice":false,"zero":false}}, "text": {"field":"t"}}}
       ]},
      {"data": {"values": [{"c":"B","x0":113.4,"x1":118.6,"h":20},{"c":"R","x0":124.4,"x1":129.4,"h":170},{"c":"Y","x0":129.4,"x1":134.4,"h":28},{"c":"B","x0":139.2,"x1":144.1,"h":2},{"c":"G","x0":144.1,"x1":149.1,"h":20},{"c":"R","x0":150.2,"x1":155.1,"h":154},{"c":"Y","x0":155.1,"x1":160.1,"h":173},{"c":"G","x0":169.9,"x1":174.8,"h":250},{"c":"B","x0":174.8,"x1":180,"h":2},{"c":"Y","x0":180.5,"x1":185.5,"h":185},{"c":"C","x0":185.5,"x1":190.4,"h":54},{"c":"G","x0":195.6,"x1":200.6,"h":75},{"c":"Y","x0":206.6,"x1":211.6,"h":24},{"c":"C","x0":211.6,"x1":216.4,"h":58}]},
       "mark": {"type":"rect","stroke":"#000000","strokeWidth":0.7,"clip":true},
       "encoding": {
        "x": {"field":"x0","type":"quantitative","scale":{"domain":[98.7,226.3],"range":[21,252],"nice":false,"zero":false}},
        "x2": {"field":"x1"},
        "y": {"field":"h","type":"quantitative","scale":{"domain":[0,250],"range":[135,16],"nice":false,"zero":false}},
        "y2": {"datum":0},
        "color": {"field":"c","type":"nominal","scale":{"domain":["R","Y","C","B","G"],"range":["#ff0000","#ffff00","#00ffff","#0000ff","#00ff00"]},"legend":null}}},
      {"data": {"values": [{}]}, "mark": {"type":"rect","filled":false,"stroke":"#7f7f7f","strokeWidth":1,"clip":true},
       "encoding": {"x": {"datum":98.7,"type":"quantitative","scale":{"domain":[98.7,226.3],"range":[21,252],"nice":false,"zero":false}}, "x2": {"datum":226.3}, "y": {"datum":0,"type":"quantitative","scale":{"domain":[0,250],"range":[135,16],"nice":false,"zero":false}}, "y2": {"datum":250}}},
      {"data": {"values": [{"t":"з)\u00a0\u00a0AV_TB_LB"}]}, "mark": {"type":"text","font":"Liberation Serif","fontSize":13,"fontWeight":"normal","color":"#000000","align":"center","baseline":"alphabetic","dy":-2.5},
       "encoding": {"x": {"datum":158.4,"type":"quantitative","scale":{"domain":[98.7,226.3],"range":[21,252],"nice":false,"zero":false}}, "y": {"datum":250,"type":"quantitative","scale":{"domain":[0,250],"range":[135,16],"nice":false,"zero":false}}, "text": {"field":"t"}}}
     ]}
  ]}
  ]
}
]
}
